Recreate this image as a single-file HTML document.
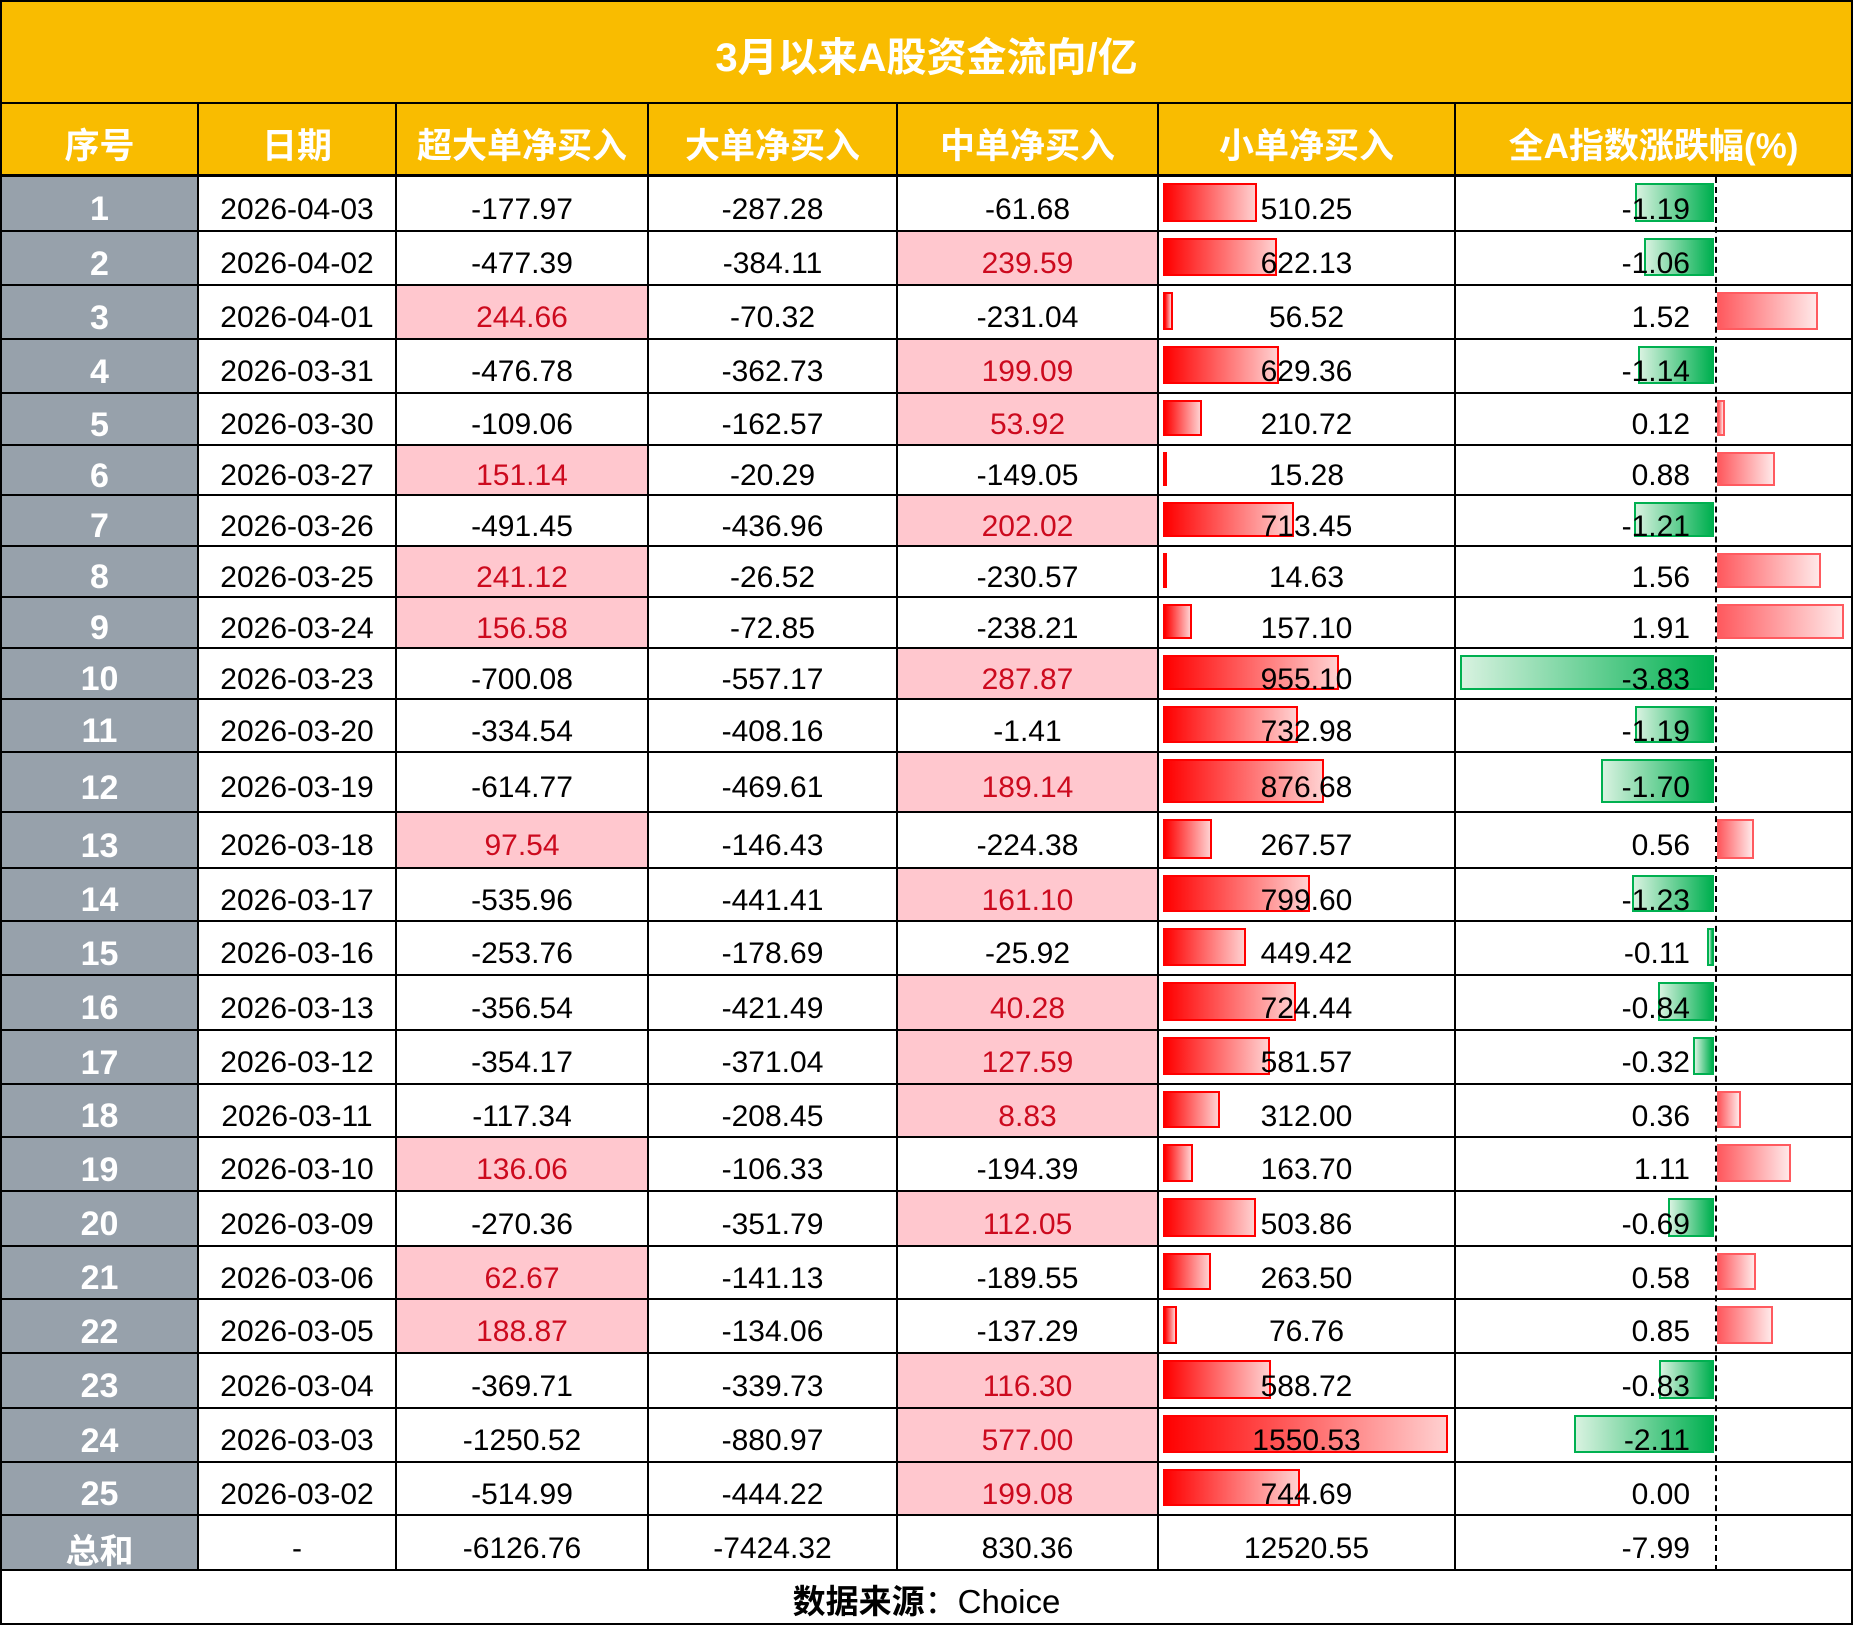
<!DOCTYPE html>
<html><head><meta charset="utf-8"><style>
body{margin:0;width:1853px;height:1625px;background:#fff;position:relative;overflow:hidden;font-family:"Liberation Sans","Noto Sans CJK SC",sans-serif}
.t{position:absolute;left:0;top:0;width:1853px;height:104px;background:#f9bc00;color:#fff;font-weight:bold;font-size:40px;display:flex;align-items:center;justify-content:center;border:2px solid #000;box-sizing:border-box;padding-top:4px}
.r{position:absolute;left:0;width:1853px}
.c{position:absolute;top:0;height:100%;display:flex;align-items:center;justify-content:center;border-right:2px solid #000;border-bottom:2px solid #000;box-sizing:border-box;font-size:30px;color:#000;padding-top:12px}
.c0{left:0;width:199px;background:#97a1ab;color:#fff;font-size:34px;font-weight:bold;border-left:2px solid #000}
.c1{left:199px;width:198px}.c2{left:397px;width:252px}.c3{left:649px;width:249px}.c4{left:898px;width:261px}.c5{left:1159px;width:297px}.c6{left:1456px;width:397px}
.h .c{background:#f9bc00;color:#fff;font-weight:bold;font-size:35px;border-bottom:3px solid #000;padding-top:8px}
.p{background:#ffc7ce;color:#cc0a1e}
.c5 span,.c6 span{position:relative;z-index:2}
.c6 span{position:absolute;right:161px}
.sb{position:absolute;left:4px;top:6px;bottom:8px;border:2px solid #f00;background:linear-gradient(90deg,#f00,#ffd0d0);box-sizing:border-box;z-index:1}
.pb{position:absolute;top:6px;bottom:8px;left:261px;border:2px solid #ff5a5f;background:linear-gradient(90deg,#ff5a5f,#ffe8e8);box-sizing:border-box}
.nb{position:absolute;top:6px;bottom:8px;right:137px;border:2px solid #00b050;background:linear-gradient(90deg,#d8f2e0,#00b050);box-sizing:border-box}
.dash{position:absolute;left:1715px;top:177px;height:1394px;border-left:2px dashed #000;z-index:3}
.f{position:absolute;left:0;top:1571px;width:1853px;height:54px;display:flex;align-items:center;justify-content:center;font-size:33px;border:2px solid #000;border-top:none;box-sizing:border-box;padding-top:4px}
</style></head><body>
<div class="t">3月以来A股资金流向/亿</div>
<div class="r h" style="top:104px;height:73px"><div class="c c0">序号</div><div class="c c1">日期</div><div class="c c2">超大单净买入</div><div class="c c3">大单净买入</div><div class="c c4">中单净买入</div><div class="c c5">小单净买入</div><div class="c c6">全A指数涨跌幅(%)</div></div>

<div class="r" style="top:177px;height:55px"><div class="c c0">1</div><div class="c c1">2026-04-03</div><div class="c c2">-177.97</div><div class="c c3">-287.28</div><div class="c c4">-61.68</div><div class="c c5"><div class="sb" style="width:94px"></div><span>510.25</span></div><div class="c c6"><div class="nb" style="width:79px"></div><span>-1.19</span></div></div>
<div class="r" style="top:232px;height:54px"><div class="c c0">2</div><div class="c c1">2026-04-02</div><div class="c c2">-477.39</div><div class="c c3">-384.11</div><div class="c c4 p">239.59</div><div class="c c5"><div class="sb" style="width:114px"></div><span>622.13</span></div><div class="c c6"><div class="nb" style="width:70px"></div><span>-1.06</span></div></div>
<div class="r" style="top:286px;height:54px"><div class="c c0">3</div><div class="c c1">2026-04-01</div><div class="c c2 p">244.66</div><div class="c c3">-70.32</div><div class="c c4">-231.04</div><div class="c c5"><div class="sb" style="width:10px"></div><span>56.52</span></div><div class="c c6"><div class="pb" style="width:101px"></div><span>1.52</span></div></div>
<div class="r" style="top:340px;height:54px"><div class="c c0">4</div><div class="c c1">2026-03-31</div><div class="c c2">-476.78</div><div class="c c3">-362.73</div><div class="c c4 p">199.09</div><div class="c c5"><div class="sb" style="width:116px"></div><span>629.36</span></div><div class="c c6"><div class="nb" style="width:76px"></div><span>-1.14</span></div></div>
<div class="r" style="top:394px;height:52px"><div class="c c0">5</div><div class="c c1">2026-03-30</div><div class="c c2">-109.06</div><div class="c c3">-162.57</div><div class="c c4 p">53.92</div><div class="c c5"><div class="sb" style="width:39px"></div><span>210.72</span></div><div class="c c6"><div class="pb" style="width:8px"></div><span>0.12</span></div></div>
<div class="r" style="top:446px;height:50px"><div class="c c0">6</div><div class="c c1">2026-03-27</div><div class="c c2 p">151.14</div><div class="c c3">-20.29</div><div class="c c4">-149.05</div><div class="c c5"><div class="sb" style="width:3px"></div><span>15.28</span></div><div class="c c6"><div class="pb" style="width:58px"></div><span>0.88</span></div></div>
<div class="r" style="top:496px;height:51px"><div class="c c0">7</div><div class="c c1">2026-03-26</div><div class="c c2">-491.45</div><div class="c c3">-436.96</div><div class="c c4 p">202.02</div><div class="c c5"><div class="sb" style="width:131px"></div><span>713.45</span></div><div class="c c6"><div class="nb" style="width:80px"></div><span>-1.21</span></div></div>
<div class="r" style="top:547px;height:51px"><div class="c c0">8</div><div class="c c1">2026-03-25</div><div class="c c2 p">241.12</div><div class="c c3">-26.52</div><div class="c c4">-230.57</div><div class="c c5"><div class="sb" style="width:3px"></div><span>14.63</span></div><div class="c c6"><div class="pb" style="width:104px"></div><span>1.56</span></div></div>
<div class="r" style="top:598px;height:51px"><div class="c c0">9</div><div class="c c1">2026-03-24</div><div class="c c2 p">156.58</div><div class="c c3">-72.85</div><div class="c c4">-238.21</div><div class="c c5"><div class="sb" style="width:29px"></div><span>157.10</span></div><div class="c c6"><div class="pb" style="width:127px"></div><span>1.91</span></div></div>
<div class="r" style="top:649px;height:51px"><div class="c c0">10</div><div class="c c1">2026-03-23</div><div class="c c2">-700.08</div><div class="c c3">-557.17</div><div class="c c4 p">287.87</div><div class="c c5"><div class="sb" style="width:176px"></div><span>955.10</span></div><div class="c c6"><div class="nb" style="width:254px"></div><span>-3.83</span></div></div>
<div class="r" style="top:700px;height:53px"><div class="c c0">11</div><div class="c c1">2026-03-20</div><div class="c c2">-334.54</div><div class="c c3">-408.16</div><div class="c c4">-1.41</div><div class="c c5"><div class="sb" style="width:135px"></div><span>732.98</span></div><div class="c c6"><div class="nb" style="width:79px"></div><span>-1.19</span></div></div>
<div class="r" style="top:753px;height:60px"><div class="c c0">12</div><div class="c c1">2026-03-19</div><div class="c c2">-614.77</div><div class="c c3">-469.61</div><div class="c c4 p">189.14</div><div class="c c5"><div class="sb" style="width:161px"></div><span>876.68</span></div><div class="c c6"><div class="nb" style="width:113px"></div><span>-1.70</span></div></div>
<div class="r" style="top:813px;height:56px"><div class="c c0">13</div><div class="c c1">2026-03-18</div><div class="c c2 p">97.54</div><div class="c c3">-146.43</div><div class="c c4">-224.38</div><div class="c c5"><div class="sb" style="width:49px"></div><span>267.57</span></div><div class="c c6"><div class="pb" style="width:37px"></div><span>0.56</span></div></div>
<div class="r" style="top:869px;height:53px"><div class="c c0">14</div><div class="c c1">2026-03-17</div><div class="c c2">-535.96</div><div class="c c3">-441.41</div><div class="c c4 p">161.10</div><div class="c c5"><div class="sb" style="width:147px"></div><span>799.60</span></div><div class="c c6"><div class="nb" style="width:82px"></div><span>-1.23</span></div></div>
<div class="r" style="top:922px;height:54px"><div class="c c0">15</div><div class="c c1">2026-03-16</div><div class="c c2">-253.76</div><div class="c c3">-178.69</div><div class="c c4">-25.92</div><div class="c c5"><div class="sb" style="width:83px"></div><span>449.42</span></div><div class="c c6"><div class="nb" style="width:7px"></div><span>-0.11</span></div></div>
<div class="r" style="top:976px;height:55px"><div class="c c0">16</div><div class="c c1">2026-03-13</div><div class="c c2">-356.54</div><div class="c c3">-421.49</div><div class="c c4 p">40.28</div><div class="c c5"><div class="sb" style="width:133px"></div><span>724.44</span></div><div class="c c6"><div class="nb" style="width:56px"></div><span>-0.84</span></div></div>
<div class="r" style="top:1031px;height:54px"><div class="c c0">17</div><div class="c c1">2026-03-12</div><div class="c c2">-354.17</div><div class="c c3">-371.04</div><div class="c c4 p">127.59</div><div class="c c5"><div class="sb" style="width:107px"></div><span>581.57</span></div><div class="c c6"><div class="nb" style="width:21px"></div><span>-0.32</span></div></div>
<div class="r" style="top:1085px;height:53px"><div class="c c0">18</div><div class="c c1">2026-03-11</div><div class="c c2">-117.34</div><div class="c c3">-208.45</div><div class="c c4 p">8.83</div><div class="c c5"><div class="sb" style="width:57px"></div><span>312.00</span></div><div class="c c6"><div class="pb" style="width:24px"></div><span>0.36</span></div></div>
<div class="r" style="top:1138px;height:54px"><div class="c c0">19</div><div class="c c1">2026-03-10</div><div class="c c2 p">136.06</div><div class="c c3">-106.33</div><div class="c c4">-194.39</div><div class="c c5"><div class="sb" style="width:30px"></div><span>163.70</span></div><div class="c c6"><div class="pb" style="width:74px"></div><span>1.11</span></div></div>
<div class="r" style="top:1192px;height:55px"><div class="c c0">20</div><div class="c c1">2026-03-09</div><div class="c c2">-270.36</div><div class="c c3">-351.79</div><div class="c c4 p">112.05</div><div class="c c5"><div class="sb" style="width:93px"></div><span>503.86</span></div><div class="c c6"><div class="nb" style="width:46px"></div><span>-0.69</span></div></div>
<div class="r" style="top:1247px;height:53px"><div class="c c0">21</div><div class="c c1">2026-03-06</div><div class="c c2 p">62.67</div><div class="c c3">-141.13</div><div class="c c4">-189.55</div><div class="c c5"><div class="sb" style="width:48px"></div><span>263.50</span></div><div class="c c6"><div class="pb" style="width:39px"></div><span>0.58</span></div></div>
<div class="r" style="top:1300px;height:54px"><div class="c c0">22</div><div class="c c1">2026-03-05</div><div class="c c2 p">188.87</div><div class="c c3">-134.06</div><div class="c c4">-137.29</div><div class="c c5"><div class="sb" style="width:14px"></div><span>76.76</span></div><div class="c c6"><div class="pb" style="width:56px"></div><span>0.85</span></div></div>
<div class="r" style="top:1354px;height:55px"><div class="c c0">23</div><div class="c c1">2026-03-04</div><div class="c c2">-369.71</div><div class="c c3">-339.73</div><div class="c c4 p">116.30</div><div class="c c5"><div class="sb" style="width:108px"></div><span>588.72</span></div><div class="c c6"><div class="nb" style="width:55px"></div><span>-0.83</span></div></div>
<div class="r" style="top:1409px;height:54px"><div class="c c0">24</div><div class="c c1">2026-03-03</div><div class="c c2">-1250.52</div><div class="c c3">-880.97</div><div class="c c4 p">577.00</div><div class="c c5"><div class="sb" style="width:285px"></div><span>1550.53</span></div><div class="c c6"><div class="nb" style="width:140px"></div><span>-2.11</span></div></div>
<div class="r" style="top:1463px;height:53px"><div class="c c0">25</div><div class="c c1">2026-03-02</div><div class="c c2">-514.99</div><div class="c c3">-444.22</div><div class="c c4 p">199.08</div><div class="c c5"><div class="sb" style="width:137px"></div><span>744.69</span></div><div class="c c6"><span>0.00</span></div></div>
<div class="r" style="top:1516px;height:55px"><div class="c c0">总和</div><div class="c c1">-</div><div class="c c2">-6126.76</div><div class="c c3">-7424.32</div><div class="c c4">830.36</div><div class="c c5"><span>12520.55</span></div><div class="c c6"><span>-7.99</span></div></div>
<div class="dash"></div>
<div class="f"><b>数据来源</b>：Choice</div>
</body></html>
